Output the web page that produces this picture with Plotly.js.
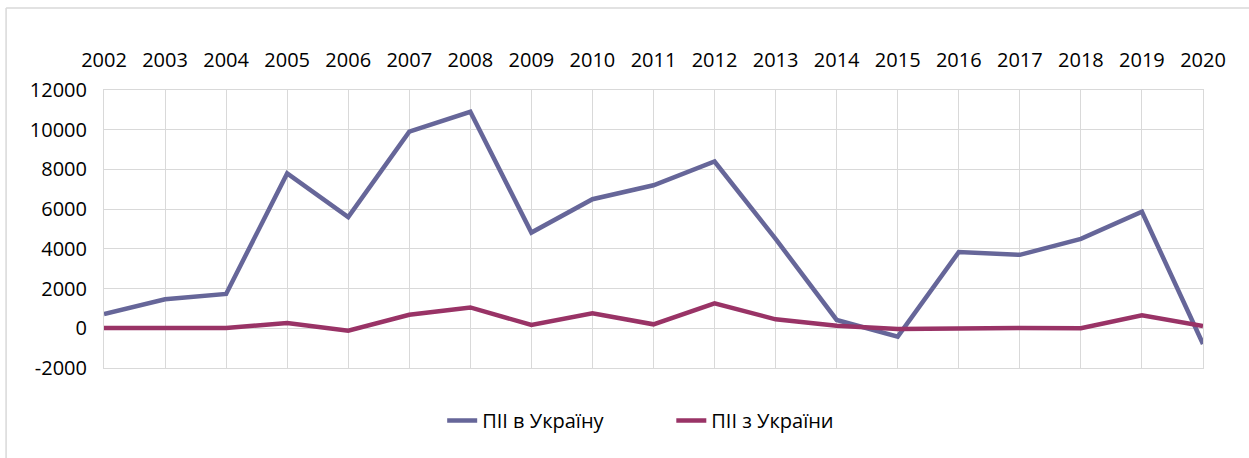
<!DOCTYPE html>
<html>
<head>
<meta charset="utf-8">
<script src="https://cdn.plot.ly/plotly-3.0.1.min.js"></script>
<style>html,body{margin:0;padding:0;background:#fff;}#chart{width:1249px;height:458px;}</style>
</head>
<body>
<div id="chart"></div>
<script>
const years = ["2002","2003","2004","2005","2006","2007","2008","2009","2010","2011","2012","2013","2014","2015","2016","2017","2018","2019","2020"];
const fdiInto = [720, 1460, 1730, 7800, 5600, 9900, 10900, 4820, 6500, 7200, 8400, 4500, 420, -420, 3840, 3700, 4500, 5870, -790];
const fdiFrom = [10, 20, 10, 270, -120, 680, 1050, 165, 750, 200, 1260, 450, 130, -35, 15, 10, 0, 650, 115];
const seriesNames = ["ПІІ в Україну", "ПІІ з України"];
const yTickValues = [-2000, 0, 2000, 4000, 6000, 8000, 10000, 12000];
const yTickLabels = ["-2000", "0", "2000", "4000", "6000", "8000", "10000", "12000"];

const font = {family: "Open Sans, Liberation Sans, sans-serif", size: 20, color: "#000"};

const traces = [
  {x: years, y: fdiInto, name: seriesNames[0], type: "scatter", mode: "lines",
   line: {color: "#666699", width: 4.5}, legend: "legend"},
  {x: years, y: fdiFrom, name: seriesNames[1], type: "scatter", mode: "lines",
   line: {color: "#993366", width: 4.5}, legend: "legend2"}
];

const layout = {
  width: 1249, height: 458,
  margin: {l: 104, r: 46, t: 90, b: 90},
  paper_bgcolor: "#fff", plot_bgcolor: "#fff",
  font: font,
  showlegend: true,
  legend: {orientation: "h", x: (442 - 104) / 1098.4, xanchor: "left", y: -0.189, yanchor: "middle",
           font: font, bgcolor: "rgba(0,0,0,0)"},
  legend2: {orientation: "h", x: (671 - 104) / 1098.4, xanchor: "left", y: -0.189, yanchor: "middle",
           font: font, bgcolor: "rgba(0,0,0,0)"},
  xaxis: {type: "category", side: "top", range: [0, 18], showgrid: true, gridcolor: "#d9d9d9",
          gridwidth: 1, ticks: "", ticklabelstandoff: 14, showline: true, linecolor: "#d9d9d9",
          mirror: true, zeroline: false, tickfont: font, fixedrange: true},
  yaxis: {range: [-2000, 12000], tickmode: "array", tickvals: yTickValues, ticktext: yTickLabels,
          showgrid: true, gridcolor: "#d9d9d9",
          gridwidth: 1, ticks: "", ticklabelstandoff: 12, showline: true, linecolor: "#d9d9d9",
          mirror: true, zeroline: false, tickfont: font, fixedrange: true},
  shapes: [
    {type: "line", xref: "paper", yref: "paper", x0: -0.0891, x1: -0.0891, y0: 1.2946, y1: -0.5,
     line: {color: "#d9d9d9", width: 1.5}},
    {type: "line", xref: "paper", yref: "paper", x0: -0.0891, x1: 1.2, y0: 1.2946, y1: 1.2946,
     line: {color: "#d9d9d9", width: 1.5}}
  ]
};

Plotly.newPlot("chart", traces, layout, {displayModeBar: false, staticPlot: true});
</script>
</body>
</html>
